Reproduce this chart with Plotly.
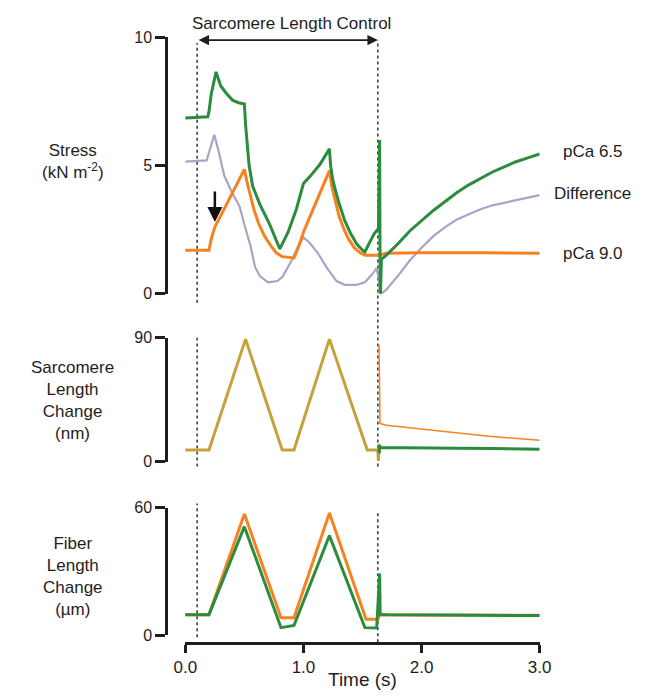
import plotly.graph_objects as go

W, H = 647, 697

# ---------------- data ----------------
# Stress (kN m^-2) — pCa 6.5 (green)
stress_g_t = [0.0, 0.19, 0.2, 0.22, 0.26, 0.3, 0.35, 0.4, 0.45, 0.5, 0.51, 0.525, 0.54, 0.57,
              0.63, 0.71, 0.76, 0.8, 0.87, 0.94, 1.0, 1.06, 1.14, 1.22, 1.23, 1.25, 1.3, 1.35,
              1.4, 1.45, 1.5, 1.52, 1.56, 1.6, 1.635, 1.645, 1.65, 1.66, 1.7, 1.8, 1.9, 2.0,
              2.1, 2.2, 2.3, 2.4, 2.5, 2.6, 2.7, 2.8, 2.9, 3.0]
stress_g = [6.85, 6.9, 7.1, 7.8, 8.65, 8.1, 7.8, 7.55, 7.45, 7.4, 6.6, 5.6, 5.0, 4.2,
            3.5, 2.75, 2.2, 1.75, 2.4, 3.3, 4.3, 4.6, 5.05, 5.65, 5.0, 4.4, 3.55, 2.85,
            2.35, 1.95, 1.7, 1.63, 2.0, 2.35, 2.55, 6.0, -0.4, 1.35, 1.5, 1.95, 2.45, 2.85,
            3.25, 3.6, 3.95, 4.25, 4.5, 4.75, 4.95, 5.15, 5.3, 5.45]

# Stress — pCa 9.0 (orange)
stress_o_t = [0.0, 0.2, 0.22, 0.25, 0.3, 0.35, 0.4, 0.45, 0.5, 0.52, 0.54, 0.58, 0.62, 0.67,
              0.72, 0.77, 0.82, 0.92, 0.96, 1.0, 1.05, 1.1, 1.15, 1.2, 1.22, 1.24, 1.27, 1.3,
              1.34, 1.38, 1.43, 1.48, 1.52, 1.63, 1.7, 2.0, 2.5, 3.0]
stress_o = [1.7, 1.7, 2.15, 2.6, 3.05, 3.5, 3.95, 4.4, 4.85, 4.4, 4.0, 3.3, 2.75, 2.25,
            1.9, 1.6, 1.45, 1.4, 1.85, 2.4, 2.95, 3.5, 4.05, 4.55, 4.8, 4.2, 3.6, 3.05,
            2.55, 2.15, 1.8, 1.6, 1.5, 1.5, 1.58, 1.6, 1.6, 1.58]

# Stress — Difference (grey)
stress_d_t = [0.0, 0.18, 0.2, 0.245, 0.28, 0.33, 0.39, 0.46, 0.5, 0.55, 0.59, 0.63, 0.7,
              0.78, 0.82, 0.9, 0.96, 1.0, 1.05, 1.12, 1.2, 1.28, 1.35, 1.45, 1.52, 1.58,
              1.62, 1.645, 1.655, 1.7, 1.8, 1.9, 2.0, 2.1, 2.2, 2.3, 2.4, 2.5, 2.6, 2.7,
              2.8, 2.9, 3.0]
stress_d = [5.15, 5.2, 5.5, 6.2, 5.6, 4.6, 4.0, 3.4, 2.7, 1.9, 1.05, 0.7, 0.45,
            0.5, 0.65, 1.3, 1.9, 2.2, 2.0, 1.6, 1.0, 0.5, 0.35, 0.35, 0.45, 0.75,
            1.0, 0.4, 0.0, 0.15, 0.7, 1.3, 1.8, 2.25, 2.6, 2.9, 3.1, 3.3, 3.45, 3.55,
            3.65, 3.75, 3.85]

# Sarcomere length change (nm): both traces identical until release
sl_common_t = [0.0, 0.2, 0.51, 0.82, 0.92, 1.22, 1.54, 1.63, 1.635, 1.64, 1.645]
sl_common = [8.5, 8.5, 89, 8.5, 8.5, 89, 8.5, 8.5, 0.5, 13, 6]
sl_o_t = [1.64, 1.642, 1.648, 1.7, 1.9, 2.24, 2.57, 3.0]
sl_o = [85, 40, 27.7, 26.5, 24.7, 21.5, 18.5, 15.5]
sl_g_t = [1.64, 1.645, 1.65, 1.8, 2.0, 2.3, 2.6, 3.0]
sl_g = [6, 12, 10.3, 10.3, 10.0, 9.8, 9.5, 9.0]

# Fiber length change (µm)
fl_o_t = [0.0, 0.2, 0.5, 0.81, 0.92, 1.22, 1.53, 1.63, 1.645, 1.7, 2.0, 2.5, 3.0]
fl_o = [9.7, 9.7, 57.0, 8.2, 8.2, 57.4, 7.6, 7.6, 9.7, 9.6, 9.5, 9.5, 9.4]
fl_g_t = [0.0, 0.2, 0.5, 0.81, 0.92, 1.22, 1.52, 1.62, 1.645, 1.65, 1.7, 2.0, 2.5, 3.0]
fl_g = [9.7, 9.7, 51.0, 3.6, 4.6, 46.8, 3.6, 3.4, 29.0, 9.8, 9.7, 9.5, 9.4, 9.3]

x_ticks = [0, 1, 2, 3]
x_ticklabels = ["0.0", "1.0", "2.0", "3.0"]
stress_ticks = [0, 5, 10]
sl_ticks = [0, 90]
fl_ticks = [0, 60]

control_start, control_end = 0.1, 1.63

# ---------------- styling ----------------
GREEN = "#2b8c3e"
ORANGE = "#f5821f"
GREY = "#aaa3c4"
OLIVE = "#c6a03a"
INK = "#1e1e1e"
FONT = "Liberation Sans, Arial, Helvetica, sans-serif"


def px(x):
    return x / W


def py(y):
    return 1 - y / H


# pixel layout: time 0 at x=180, time 3 at x=548; y-axes drawn at x=162
PX_T0, PX_T3, PX_YAX = 180, 548, 162
t_left = -(PX_T0 - PX_YAX) * 3.0 / (PX_T3 - PX_T0)

fig = go.Figure()

# top panel
fig.add_trace(go.Scatter(x=stress_d_t, y=stress_d, mode="lines",
                         line=dict(color=GREY, width=2.2), xaxis="x", yaxis="y"))
fig.add_trace(go.Scatter(x=stress_o_t, y=stress_o, mode="lines",
                         line=dict(color=ORANGE, width=3), xaxis="x", yaxis="y"))
fig.add_trace(go.Scatter(x=stress_g_t, y=stress_g, mode="lines",
                         line=dict(color=GREEN, width=3), xaxis="x", yaxis="y"))

# middle panel
fig.add_trace(go.Scatter(x=sl_common_t, y=sl_common, mode="lines",
                         line=dict(color=OLIVE, width=3), xaxis="x2", yaxis="y2"))
fig.add_trace(go.Scatter(x=sl_o_t, y=sl_o, mode="lines",
                         line=dict(color=ORANGE, width=1.5), xaxis="x2", yaxis="y2"))
fig.add_trace(go.Scatter(x=sl_g_t, y=sl_g, mode="lines",
                         line=dict(color=GREEN, width=3), xaxis="x2", yaxis="y2"))

# carrier for the detached time axis (drawn first so it sits beneath the data)
fig.add_trace(go.Scatter(x=[x_ticks[0], x_ticks[-1]], y=[fl_ticks[0], fl_ticks[0]],
                         mode="lines", line=dict(width=0, color="rgba(0,0,0,0)"),
                         hoverinfo="skip", xaxis="x4", yaxis="y3"))

# bottom panel
fig.add_trace(go.Scatter(x=fl_o_t, y=fl_o, mode="lines",
                         line=dict(color=ORANGE, width=3), xaxis="x3", yaxis="y3"))
fig.add_trace(go.Scatter(x=fl_g_t, y=fl_g, mode="lines",
                         line=dict(color=GREEN, width=3), xaxis="x3", yaxis="y3"))

X_DOM = [px(PX_YAX), px(PX_T3)]

yax_common = dict(side="left", showgrid=False,
                  zeroline=False, showline=True, linecolor=INK, linewidth=2.5,
                  ticks="outside", ticklen=10, tickwidth=2.5, tickcolor=INK,
                  tickfont=dict(size=16, color=INK, family=FONT), fixedrange=True)
xhidden = dict(domain=X_DOM, range=[t_left, 3], visible=False, showgrid=False,
               zeroline=False, fixedrange=True)

fig.update_layout(
    width=W, height=H,
    margin=dict(l=0, r=0, t=0, b=0),
    paper_bgcolor="white", plot_bgcolor="rgba(0,0,0,0)",
    showlegend=False,
    font=dict(family=FONT, color=INK),
    xaxis=dict(xhidden, anchor="y"),
    xaxis2=dict(xhidden, anchor="y2", matches="x"),
    xaxis3=dict(xhidden, anchor="y3", matches="x"),
    xaxis4=dict(domain=[px(PX_T0), px(PX_T3)], range=[0, 3], anchor="free",
                position=py(651), showgrid=False, zeroline=False, showline=True,
                linecolor=INK, linewidth=2.5, ticks="outside", ticklen=8,
                tickwidth=2.5, tickcolor=INK, tickvals=x_ticks, ticktext=x_ticklabels,
                tickfont=dict(size=17, color=INK, family=FONT), fixedrange=True),
    yaxis=dict(yax_common, anchor="x", domain=[py(293), py(30)], range=[0, 10],
               tickvals=stress_ticks),
    yaxis2=dict(yax_common, anchor="x2", domain=[py(465), py(338)], range=[0, 90],
                tickvals=sl_ticks),
    yaxis3=dict(yax_common, anchor="x3", domain=[py(643), py(512)], range=[0, 60],
                tickvals=fl_ticks),
)

# dotted marker lines (segments per panel)
dot = dict(color="#333333", width=1.5, dash="dot")
for t, segs in ((control_start, [(36, 302), (338, 470), (508, 645)]),
                (control_end, [(33, 470), (517, 650)])):
    for y0, y1 in segs:
        fig.add_shape(type="line", xref="x", yref="paper", x0=t, x1=t,
                      y0=py(y1), y1=py(y0), line=dot, layer="below")

ann_font = dict(size=17, color=INK, family=FONT)

# Sarcomere Length Control header with double arrow
fig.add_annotation(x=control_end, y=9.89, ax=control_start, ay=9.89, xref="x", yref="y",
                   axref="x", ayref="y", text="", showarrow=True, arrowside="end+start",
                   arrowhead=2, arrowsize=1.3, arrowwidth=1.6, arrowcolor=INK)
fig.add_annotation(x=px(290), y=py(16), xref="paper", yref="paper",
                   text="Sarcomere Length Control", showarrow=False, font=ann_font,
                   xanchor="center", yanchor="middle")

# downward arrow in stress panel
fig.add_annotation(x=0.25, y=2.8, ax=0.25, ay=4.05, xref="x", yref="y", axref="x",
                   ayref="y", text="", showarrow=True, arrowhead=2, arrowsize=1.2,
                   arrowwidth=2.5, arrowcolor="#111111")

# left axis labels
left_labels = [
    ("Stress<br>(kN m<sup>-2</sup>)", 157),
    ("Sarcomere<br>Length<br>Change<br>(nm)", 402),
    ("Fiber<br>Length<br>Change<br>(µm)", 583),
]
for txt, yc in left_labels:
    fig.add_annotation(x=px(63), y=py(yc), xref="paper", yref="paper", text=txt,
                       showarrow=False, font=ann_font, xanchor="center",
                       yanchor="middle", align="center")

# right trace labels
right_labels = [("pCa 6.5", 147), ("Difference", 190), ("pCa 9.0", 252)]
for txt, yc in right_labels:
    fig.add_annotation(x=px(603), y=py(yc), xref="paper", yref="paper", text=txt,
                       showarrow=False, font=ann_font, xanchor="center", yanchor="middle")

# x axis title
fig.add_annotation(x=1.5, y=py(688), xref="x", yref="paper", text="Time (s)",
                   showarrow=False, font=dict(size=19, color=INK, family=FONT),
                   xanchor="center", yanchor="middle")

fig.write_html("out.html", config={"displayModeBar": False})
